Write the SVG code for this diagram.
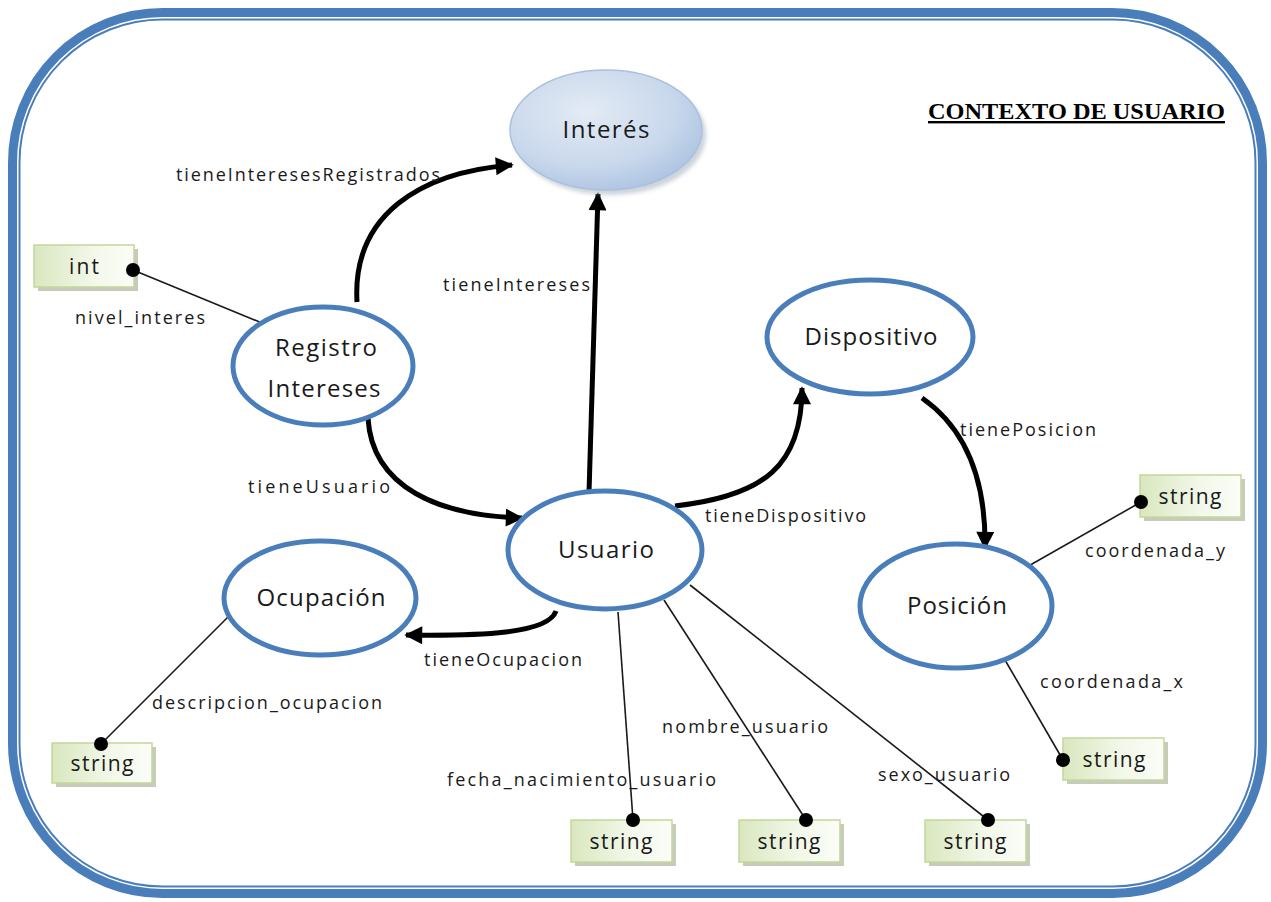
<svg xmlns="http://www.w3.org/2000/svg" width="1271" height="902" viewBox="0 0 1271 902">
  <style>
    .node { fill: #ffffff; stroke: #4a7ebb; stroke-width: 5; }
    .ntext { font-family: "Open Sans", "Liberation Sans", sans-serif; font-size: 24px; fill: #1a1a1a; text-anchor: middle; }
    .label { font-family: "Open Sans", "Liberation Sans", sans-serif; font-size: 18px; fill: #1a1a1a; }
    .btext { font-family: "Open Sans", "Liberation Sans", sans-serif; font-size: 21px; fill: #1a1a1a; text-anchor: middle; }
    .box { fill: url(#boxFill); stroke: #c3d69b; stroke-width: 1.5; }
    .shadow { fill: #b8bfa8; opacity: 0.8; }
    .rel { fill: none; stroke: #000000; stroke-width: 5; marker-end: url(#arrow); }
    .attr { fill: none; stroke: #1a1a1a; stroke-width: 1.6; }
    .dot { fill: #000000; }
    .frame { fill: none; stroke: #4a7ebb; }
    .title { font-family: "Liberation Serif", serif; font-size: 24px; font-weight: bold; fill: #000000; text-decoration: underline; }
  </style>
  <defs>
    <marker id="arrow" viewBox="0 0 10 10" refX="9" refY="5" markerWidth="22" markerHeight="18" markerUnits="userSpaceOnUse" orient="auto">
      <path d="M0,0 L10,5 L0,10 z" fill="#000000"/>
    </marker>
    <linearGradient id="boxFill" x1="0" y1="0" x2="1" y2="0">
      <stop offset="0" stop-color="#d9e7bf"/>
      <stop offset="0.6" stop-color="#f3f8ea"/>
      <stop offset="1" stop-color="#fbfdf7"/>
    </linearGradient>
    <radialGradient id="topicFill" cx="0.4" cy="0.35" r="0.75">
      <stop offset="0" stop-color="#e3ebf5"/>
      <stop offset="0.6" stop-color="#c9d8ec"/>
      <stop offset="1" stop-color="#a6bfdf"/>
    </radialGradient>
    <filter id="soft" x="-20%" y="-20%" width="140%" height="140%">
      <feGaussianBlur stdDeviation="2"/>
    </filter>
  </defs>

  <!-- outer double frame -->
  <rect class="frame" x="12.5" y="12.5" width="1250" height="881" rx="150" ry="150" stroke-width="9"/>
  <rect class="frame" x="19.5" y="19.5" width="1236" height="867" rx="143" ry="143" stroke-width="2"/>

  <text class="title" x="928" y="119" textLength="297" lengthAdjust="spacingAndGlyphs">CONTEXTO DE USUARIO</text>

  <!-- connectors -->
  <g id="connectors">
    <path class="rel" d="M357,302 C352,215 420,172 512,165"/>
    <path class="rel" d="M589,493 L598,194"/>
    <path class="rel" d="M368,418 C372,488 440,516 522,518"/>
    <path class="rel" d="M675,506 C765,496 802,465 802,388"/>
    <path class="rel" d="M922,398 C968,430 986,482 985,548"/>
    <path class="rel" d="M556,611 C548,634 480,636 406,635"/>

    <line class="attr" x1="133" y1="270" x2="262" y2="323"/>
    <line class="attr" x1="101" y1="744" x2="228" y2="617"/>
    <line class="attr" x1="618" y1="612" x2="633" y2="820"/>
    <line class="attr" x1="664" y1="600" x2="806" y2="820"/>
    <line class="attr" x1="690" y1="585" x2="988" y2="820"/>
    <line class="attr" x1="1025" y1="568" x2="1141" y2="502"/>
    <line class="attr" x1="1005" y1="660" x2="1063" y2="760"/>

    <text class="label" x="176" y="181" textLength="264">tieneInteresesRegistrados</text>
    <text class="label" x="443" y="291" textLength="147">tieneIntereses</text>
    <text class="label" x="75" y="324" textLength="130">nivel_interes</text>
    <text class="label" x="248" y="493" textLength="142">tieneUsuario</text>
    <text class="label" x="705" y="522" textLength="161">tieneDispositivo</text>
    <text class="label" x="960" y="436" textLength="136">tienePosicion</text>
    <text class="label" x="1085" y="557" textLength="140">coordenada_y</text>
    <text class="label" x="1040" y="688" textLength="143">coordenada_x</text>
    <text class="label" x="424" y="666" textLength="158">tieneOcupacion</text>
    <text class="label" x="152" y="709" textLength="230">descripcion_ocupacion</text>
    <text class="label" x="662" y="733" textLength="166">nombre_usuario</text>
    <text class="label" x="447" y="786" textLength="269">fecha_nacimiento_usuario</text>
    <text class="label" x="878" y="781" textLength="132">sexo_usuario</text>
  </g>

  <!-- class nodes -->
  <g id="node-interes">
    <ellipse cx="610" cy="135" rx="96" ry="60" fill="#9aa7b8" opacity="0.5" filter="url(#soft)"/>
    <ellipse cx="606" cy="130" rx="96" ry="60" fill="url(#topicFill)" stroke="#a9c0de" stroke-width="1.5"/>
    <text class="ntext" x="606" y="138" textLength="87">Interés</text>
  </g>
  <g id="node-registro">
    <ellipse class="node" cx="323" cy="366" rx="90" ry="59"/>
    <text class="ntext" x="326" y="356" textLength="102">Registro</text>
    <text class="ntext" x="324" y="397" textLength="113">Intereses</text>
  </g>
  <g id="node-dispositivo">
    <ellipse class="node" cx="870" cy="337" rx="103" ry="57"/>
    <text class="ntext" x="871" y="345" textLength="133">Dispositivo</text>
  </g>
  <g id="node-usuario">
    <ellipse class="node" cx="605" cy="550" rx="97" ry="59"/>
    <text class="ntext" x="606" y="558" textLength="96">Usuario</text>
  </g>
  <g id="node-ocupacion">
    <ellipse class="node" cx="320" cy="598" rx="96" ry="57"/>
    <text class="ntext" x="321" y="606" textLength="129">Ocupación</text>
  </g>
  <g id="node-posicion">
    <ellipse class="node" cx="956" cy="606" rx="96" ry="62"/>
    <text class="ntext" x="957" y="614" textLength="100">Posición</text>
  </g>

  <!-- datatype nodes -->
  <g id="type-int">
    <rect class="shadow" x="38" y="249" width="100" height="42"/>
    <rect class="box" x="34" y="245" width="100" height="42"/>
    <text class="btext" x="84" y="274" textLength="30">int</text>
  </g>
  <g id="type-descripcion">
    <rect class="shadow" x="56" y="747" width="100" height="40"/>
    <rect class="box" x="52" y="743" width="100" height="40"/>
    <text class="btext" x="102" y="771" textLength="63">string</text>
  </g>
  <g id="type-fecha">
    <rect class="shadow" x="575" y="824" width="101" height="42"/>
    <rect class="box" x="571" y="820" width="101" height="42"/>
    <text class="btext" x="621" y="849" textLength="63">string</text>
  </g>
  <g id="type-nombre">
    <rect class="shadow" x="743" y="824" width="101" height="42"/>
    <rect class="box" x="739" y="820" width="101" height="42"/>
    <text class="btext" x="789" y="849" textLength="63">string</text>
  </g>
  <g id="type-sexo">
    <rect class="shadow" x="929" y="824" width="101" height="42"/>
    <rect class="box" x="925" y="820" width="101" height="42"/>
    <text class="btext" x="975" y="849" textLength="63">string</text>
  </g>
  <g id="type-coord-y">
    <rect class="shadow" x="1144" y="479" width="101" height="42"/>
    <rect class="box" x="1140" y="475" width="101" height="42"/>
    <text class="btext" x="1190" y="504" textLength="63">string</text>
  </g>
  <g id="type-coord-x">
    <rect class="shadow" x="1067" y="742" width="101" height="42"/>
    <rect class="box" x="1063" y="738" width="101" height="42"/>
    <text class="btext" x="1114" y="767" textLength="63">string</text>
  </g>

  <!-- attribute end dots -->
  <g id="dots">
    <circle class="dot" cx="133" cy="270" r="7"/>
    <circle class="dot" cx="101" cy="744" r="7"/>
    <circle class="dot" cx="633" cy="820" r="7"/>
    <circle class="dot" cx="806" cy="820" r="7"/>
    <circle class="dot" cx="988" cy="820" r="7"/>
    <circle class="dot" cx="1141" cy="502" r="7"/>
    <circle class="dot" cx="1063" cy="760" r="7"/>
  </g>
</svg>
